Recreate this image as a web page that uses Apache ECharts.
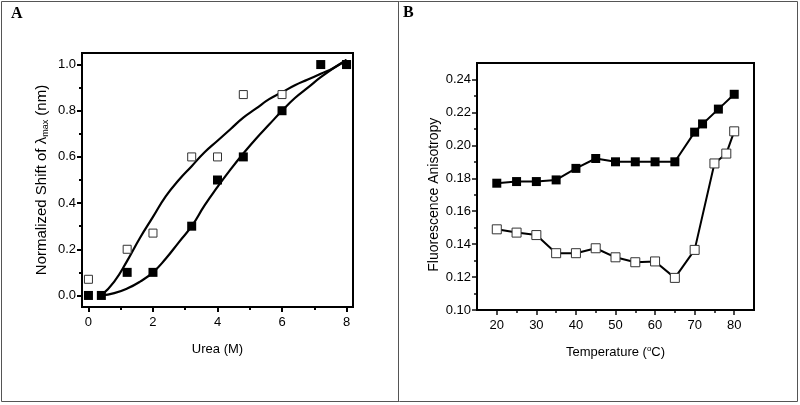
<!DOCTYPE html>
<html>
<head>
<meta charset="utf-8">
<script src="https://cdn.jsdelivr.net/npm/echarts@6/dist/echarts.min.js"></script>
<style>html,body{margin:0;padding:0;background:#fff}#c{width:800px;height:405px}</style>
</head>
<body>
<div id="c"></div>
<script>
// Panel A data
const ureaOpenX = [0, 1.2, 2, 3.2, 4, 4.8, 6, 8];
const ureaOpenY = [0.07, 0.2, 0.27, 0.6, 0.6, 0.87, 0.87, 1.0];
const ureaFilledX = [0, 0.4, 1.2, 2, 3.2, 4, 4.8, 6, 7.2, 8];
const ureaFilledY = [0, 0, 0.1, 0.1, 0.3, 0.5, 0.6, 0.8, 1.0, 1.0];
const fitX = [0.4, 0.8, 1.2, 1.6, 2.0, 2.4, 2.8, 3.2, 3.6, 4.0, 4.4, 4.8, 5.2, 5.6, 6.0, 6.4, 6.8, 7.2, 7.6, 8.0];
const fitOpenY = [0.0, 0.06, 0.15, 0.25, 0.34, 0.43, 0.5, 0.56, 0.62, 0.67, 0.72, 0.77, 0.81, 0.85, 0.88, 0.91, 0.935, 0.96, 0.985, 1.02];
const fitFilledY = [0.0, 0.01, 0.03, 0.06, 0.1, 0.16, 0.23, 0.3, 0.39, 0.47, 0.545, 0.615, 0.68, 0.74, 0.8, 0.855, 0.9, 0.945, 0.985, 1.02];
const aX = [-0.2, 8.2, 0, 8, 2];
const aY = [-0.05, 1.05, 0, 1.0, 0.2];

// Panel B data
const tempFilledX = [20, 25, 30, 35, 40, 45, 50, 55, 60, 65, 70, 72, 76, 80];
const tempFilledY = [0.177, 0.178, 0.178, 0.179, 0.186, 0.192, 0.190, 0.190, 0.190, 0.190, 0.208, 0.213, 0.222, 0.231];
const tempOpenX = [20, 25, 30, 35, 40, 45, 50, 55, 60, 65, 70, 75, 78, 80];
const tempOpenY = [0.149, 0.147, 0.1455, 0.1345, 0.1345, 0.1375, 0.132, 0.129, 0.1295, 0.1195, 0.1365, 0.189, 0.195, 0.2085];
const bX = [15, 85, 20, 80, 10];
const bY = [0.10, 0.25, 0.10, 0.24, 0.02];

const zip = (xs, ys) => xs.map((x, i) => [x, ys[i]]);
const FONT = 'Liberation Sans, Arial, sans-serif';
const lbl = {fontFamily: FONT, fontSize: 13, color: '#000'};

const boxA = {left: 82, top: 53, width: 271, height: 254};
const boxB = {left: 477, top: 63, width: 277, height: 247};

function tickBox(box, rx, ry) {
  const sx = box.width / (rx[1] - rx[0]);
  const sy = box.height / (ry[1] - ry[0]);
  const left = box.left + (rx[2] - rx[0]) * sx;
  const right = box.left + (rx[3] - rx[0]) * sx;
  const top = box.top + (ry[1] - ry[3]) * sy;
  const bottom = box.top + (ry[1] - ry[2]) * sy;
  return {
    grid: {left, top, width: right - left, height: bottom - top},
    offX: box.top + box.height - bottom,
    offY: left - box.left
  };
}
const tA = tickBox(boxA, aX, aY);
const tB = tickBox(boxB, bX, bY);

// variant per axis to find which tick settings render
function axis(pos, gi, r, off, margin, fmt, extra, tick) {
  return Object.assign({
    type: 'value', gridIndex: gi, min: r[2], max: r[3], interval: r[4],
    position: pos, offset: off,
    axisLine: {show: false, onZero: false},
    axisTick: Object.assign({show: true, length: 5}, tick),
    minorTick: Object.assign({show: true, splitNumber: 2, length: 3}, tick),
    axisLabel: Object.assign({margin, formatter: fmt}, lbl),
    splitLine: {show: false}
  }, extra);
}

const filledStyle = {color: '#000', opacity: 1};
const openStyle = {color: '#fff', borderColor: '#333', borderWidth: 1, opacity: 1};

const option = {
  animation: false,
  backgroundColor: '#fff',
  grid: [tA.grid, tB.grid],
  xAxis: [
    axis('bottom', 0, aX, tA.offX, 9, v => String(v), {
      name: 'Urea (M)', nameLocation: 'middle', nameGap: 36, nameTextStyle: lbl
    }, {lineStyle: {color: '#000', width: 2}}),
    axis('bottom', 1, bX, tB.offX, 9, v => String(v), {
      name: 'Temperature ({sup|o}C)', nameLocation: 'middle', nameGap: 35,
      nameTextStyle: Object.assign({}, lbl, {rich: {sup: {fontFamily: FONT, fontSize: 8, color: '#000', verticalAlign: 'top', padding: [0, 0, 6, 0]}}})
    }, {lineStyle: {color: '#111', width: 1.5}})
  ],
  yAxis: [
    axis('left', 0, aY, tA.offY, 6, v => v.toFixed(1), {
      name: 'Normalized Shift of λ{sub|max} (nm)', nameLocation: 'middle', nameGap: 32,
      nameTextStyle: Object.assign({}, lbl, {fontSize: 15, rich: {sub: {fontFamily: FONT, fontSize: 9, color: '#000', verticalAlign: 'bottom', padding: [7, 0, 0, 0]}}})
    }, {lineStyle: {color: '#000', width: 2}}),
    axis('left', 1, bY, tB.offY, 6, v => v.toFixed(2), {
      name: 'Fluorescence Anisotropy', nameLocation: 'middle', nameGap: 36,
      nameTextStyle: Object.assign({}, lbl, {fontSize: 14})
    }, {lineStyle: {color: '#111', width: 1.5}})
  ],
  series: [
    {type: 'line', xAxisIndex: 0, yAxisIndex: 0, clip: false, data: zip(fitX, fitOpenY), smooth: true, showSymbol: false, symbol: 'none', lineStyle: {color: '#000', width: 2.2}, z: 2},
    {type: 'line', xAxisIndex: 0, yAxisIndex: 0, clip: false, data: zip(fitX, fitFilledY), smooth: true, showSymbol: false, symbol: 'none', lineStyle: {color: '#000', width: 2.2}, z: 2},
    {type: 'scatter', xAxisIndex: 0, yAxisIndex: 0, clip: false, data: zip(ureaOpenX, ureaOpenY), symbol: 'rect', symbolSize: 8, itemStyle: openStyle, z: 3},
    {type: 'scatter', xAxisIndex: 0, yAxisIndex: 0, clip: false, data: zip(ureaFilledX, ureaFilledY), symbol: 'rect', symbolSize: 9, itemStyle: filledStyle, z: 4},
    {type: 'line', xAxisIndex: 1, yAxisIndex: 1, clip: false, data: zip(tempFilledX, tempFilledY), symbol: 'rect', symbolSize: 9, showAllSymbol: true, lineStyle: {color: '#000', width: 2}, itemStyle: filledStyle, z: 3},
    {type: 'line', xAxisIndex: 1, yAxisIndex: 1, clip: false, data: zip(tempOpenX, tempOpenY), symbol: 'rect', symbolSize: 9, showAllSymbol: true, lineStyle: {color: '#000', width: 2}, itemStyle: openStyle, z: 3}
  ],
  graphic: [
    {type: 'rect', shape: {x: 1.5, y: 1.5, width: 796, height: 400}, style: {fill: 'none', stroke: '#555', lineWidth: 1}, z: 0},
    {type: 'line', shape: {x1: 398.5, y1: 1.5, x2: 398.5, y2: 401.5}, style: {stroke: '#555', lineWidth: 1}, z: 0},
    {type: 'rect', shape: {x: boxA.left, y: boxA.top, width: boxA.width, height: boxA.height}, style: {fill: 'none', stroke: '#000', lineWidth: 2}, z: 1},
    {type: 'rect', shape: {x: boxB.left, y: boxB.top, width: boxB.width, height: boxB.height}, style: {fill: 'none', stroke: '#000', lineWidth: 2}, z: 1},
    {type: 'text', left: 11, top: 6, style: {text: 'A', font: 'bold 16px "Liberation Serif", "Times New Roman", serif', fill: '#000'}},
    {type: 'text', left: 403, top: 5, style: {text: 'B', font: 'bold 16px "Liberation Serif", "Times New Roman", serif', fill: '#000'}}
  ]
};
const chart = echarts.init(document.getElementById('c'), null, {renderer: 'canvas', width: 800, height: 405});
chart.setOption(option);
</script>
</body>
</html>
